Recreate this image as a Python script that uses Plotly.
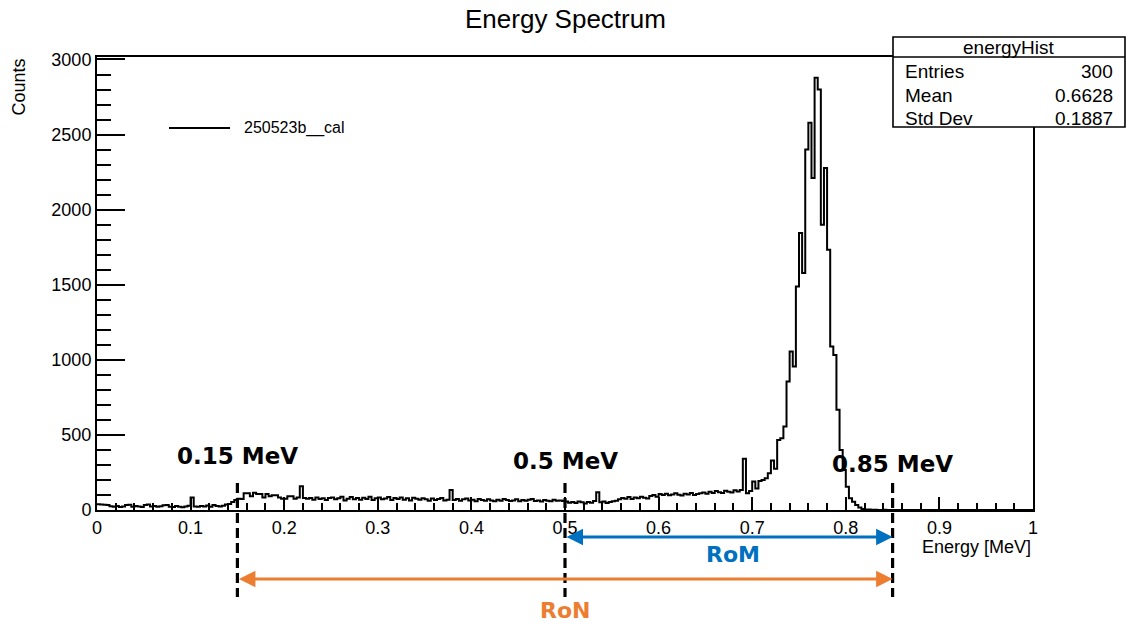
import numpy as np
import plotly.graph_objects as go

# ---- histogram contents: 300 bins over 0..1 MeV ----
counts = [
    # 0.00 - 0.15
    38, 37, 35, 34, 25, 22, 27, 20, 24, 33,
    35, 22, 27, 24, 20, 33, 36, 24, 26, 22,
    25, 31, 33, 22, 20, 27, 22, 19, 24, 28,
    84, 24, 22, 27, 24, 30, 22, 33, 27, 24,
    29, 36, 40, 53, 67,
    # 0.15 - 0.25
    75, 73, 111, 111, 91, 115, 107, 107, 84, 107,
    91, 98, 98, 84, 75, 75, 91, 91, 75, 84,
    158, 80, 75, 80, 69, 84, 73, 78, 67, 80,
    # 0.25 - 0.50
    84, 71, 78, 89, 64, 75, 87, 71, 80, 69,
    82, 73, 89, 67, 78, 84, 71, 76, 87, 67,
    80, 73, 84, 69, 78, 64, 82, 75, 69, 78,
    71, 62, 76, 67, 73, 80, 64, 69, 133, 67,
    73, 62, 71, 76, 64, 69, 58, 73, 67, 62,
    71, 64, 58, 69, 62, 73, 67, 60, 64, 71,
    58, 67, 62, 69, 73, 60, 64, 56, 67, 62,
    58, 69, 62, 64, 60,
    # 0.50 - 0.69
    56, 49, 53, 47, 56, 51, 44, 53, 49, 60,
    118, 51, 56, 47, 53, 58, 62, 71, 80, 75,
    87, 73, 84, 78, 89, 82, 76, 93, 100, 89,
    107, 100, 109, 98, 104, 111, 102, 96, 109, 104,
    113, 100, 107, 111, 116, 109, 122, 113, 127, 118,
    113, 129, 122, 116, 131, 124, 133,
    # 0.69 - 0.83 (photopeak)
    342, 111, 127, 190, 144, 193, 200, 211, 245, 330,
    275, 466, 478, 556, 856, 1056, 956, 1489, 1844, 1578,
    2400, 2578, 2211, 2878, 2800, 1900, 2278, 1733, 1089, 1033,
    667, 400, 267, 155, 78, 55, 33, 16, 7, 4,
    3, 2, 1,
    # 0.83 - 1.00
    0, 0, 1, 0, 0, 0, 0, 0, 0, 0,
    0, 0, 0, 0, 0, 0, 0, 0, 0, 0,
    0, 0, 0, 0, 0, 0, 0, 0, 0, 0,
    0, 0, 0, 0, 0, 0, 0, 0, 0, 0,
    0, 0, 0, 0, 0, 0, 0, 0, 0, 0,
]
assert len(counts) == 300

x_min, x_max = 0.0, 1.0
y_max = 3016.6

x_ticks = [0, 0.1, 0.2, 0.3, 0.4, 0.5, 0.6, 0.7, 0.8, 0.9, 1]
x_tick_text = ["0", "0.1", "0.2", "0.3", "0.4", "0.5", "0.6", "0.7", "0.8", "0.9", "1"]
y_ticks = [0, 500, 1000, 1500, 2000, 2500, 3000]

# region boundaries (MeV)
cut_low = 0.15
cut_mid = 0.5
cut_high = 0.85
cut_labels = ["0.15 MeV", "0.5 MeV", "0.85 MeV"]

# statistics panel
stats_title = "energyHist"
stats_names = ["Entries", "Mean", "Std Dev"]
stats_values = ["300", "0.6628", "0.1887"]
legend_name = "250523b__cal"

BLUE = "#0070C0"
ORANGE = "#ED7D31"
ROOT_FONT = "Liberation Sans, Arial, sans-serif"
BOLD_FONT = "DejaVu Sans, Verdana, sans-serif"

W, H = 1126, 626
L, R, T, B = 97, 93, 57, 116
PLOT_BOTTOM = H - B
PLOT_H = H - T - B
PLOT_W = W - L - R


def py(p):
    """pixel row -> paper y"""
    return (PLOT_BOTTOM - p) / PLOT_H


def px(p):
    """pixel column -> paper x"""
    return (p - L) / PLOT_W


n_bins = len(counts)
edges = np.linspace(x_min, x_max, n_bins + 1)
step_y = list(counts) + [counts[-1]]

fig = go.Figure()
fig.add_trace(go.Scatter(
    x=edges, y=step_y, mode="lines", name=legend_name,
    line=dict(shape="hv", color="black", width=2),
    showlegend=False, hoverinfo="skip",
))

axis_common = dict(
    showline=True, linecolor="black", linewidth=2, mirror=True,
    ticks="inside", tickcolor="black", tickwidth=1.6,
    showgrid=False, zeroline=False,
    tickfont=dict(family=ROOT_FONT, size=18, color="black"),
)

fig.update_xaxes(
    range=[x_min, x_max], tickvals=x_ticks, ticktext=x_tick_text, ticklen=13,
    minor=dict(ticks="inside", ticklen=7, dtick=0.02, tick0=0,
               tickcolor="black", tickwidth=1.6),
    **axis_common,
)
fig.update_yaxes(
    range=[0, y_max], tickvals=y_ticks, ticklen=28,
    minor=dict(ticks="inside", ticklen=14, dtick=100, tick0=0,
               tickcolor="black", tickwidth=1.6),
    **axis_common,
)

shapes = []
annotations = []

# dashed cut lines
for xc in (cut_low, cut_mid, cut_high):
    shapes.append(dict(type="line", xref="x", yref="paper",
                       x0=xc, x1=xc, y0=py(483), y1=py(597),
                       line=dict(color="black", width=3.2, dash="10px,5px"),
                       layer="above"))

# cut labels
for xc, lab, yc in zip((cut_low, cut_mid, cut_high), cut_labels, (456, 461, 464)):
    annotations.append(dict(x=xc, y=py(yc), xref="x", yref="paper",
                            text="<b>%s</b>" % lab, showarrow=False,
                            xanchor="center", yanchor="middle",
                            font=dict(family=BOLD_FONT, size=23, color="black")))

# RoM / RoN double arrows
for x0, x1, yrow, col, lab, ytxt, xtxt in (
        (cut_mid, cut_high, 537, BLUE, "RoM", 554, (cut_mid + cut_high) / 2 + 0.005),
        (cut_low, cut_high, 579, ORANGE, "RoN", 610, cut_mid)):
    annotations.append(dict(x=x1, y=py(yrow), xref="x", yref="paper",
                            ax=x0, ay=0, axref="x", ayref="pixel",
                            text="", showarrow=True, arrowhead=2, arrowside="end+start",
                            arrowsize=1.1, arrowwidth=3, arrowcolor=col))
    annotations.append(dict(x=xtxt, y=py(ytxt), xref="x", yref="paper",
                            text="<b>%s</b>" % lab, showarrow=False,
                            xanchor="center", yanchor="middle",
                            font=dict(family=BOLD_FONT, size=22, color=col)))

# statistics box
box_x0, box_x1 = px(893), px(1125)
shapes.append(dict(type="rect", xref="paper", yref="paper",
                   x0=box_x0, x1=box_x1, y0=py(127), y1=py(37),
                   line=dict(color="black", width=1.6), fillcolor="white", layer="above"))
shapes.append(dict(type="line", xref="paper", yref="paper",
                   x0=box_x0, x1=box_x1, y0=py(57), y1=py(57),
                   line=dict(color="black", width=1.6), layer="above"))
annotations.append(dict(x=(box_x0 + box_x1) / 2, y=py(47), xref="paper", yref="paper",
                        text=stats_title, showarrow=False, xanchor="center", yanchor="middle",
                        font=dict(family=ROOT_FONT, size=19, color="black")))
for i, (nm, val) in enumerate(zip(stats_names, stats_values)):
    yc = py(72 + 23 * i)
    annotations.append(dict(x=px(903), y=yc, xref="paper", yref="paper", text=nm,
                            showarrow=False, xanchor="left", yanchor="middle",
                            font=dict(family=ROOT_FONT, size=19, color="black")))
    annotations.append(dict(x=px(1115), y=yc, xref="paper", yref="paper", text=val,
                            showarrow=False, xanchor="right", yanchor="middle",
                            font=dict(family=ROOT_FONT, size=19, color="black")))

# legend entry
shapes.append(dict(type="line", xref="paper", yref="paper",
                   x0=px(169), x1=px(230), y0=py(128), y1=py(128),
                   line=dict(color="black", width=2)))
annotations.append(dict(x=px(242), y=py(128), xref="paper", yref="paper",
                        text=legend_name, showarrow=False, xanchor="left", yanchor="middle",
                        font=dict(family=ROOT_FONT, size=16, color="black")))

# titles
annotations.append(dict(x=0.5, y=py(19), xref="paper", yref="paper",
                        text="Energy Spectrum", showarrow=False,
                        xanchor="center", yanchor="middle",
                        font=dict(family=ROOT_FONT, size=26, color="black")))
annotations.append(dict(x=1.0, y=py(547), xref="paper", yref="paper",
                        text="Energy [MeV]", showarrow=False,
                        xanchor="right", yanchor="middle",
                        font=dict(family=ROOT_FONT, size=18, color="black")))
annotations.append(dict(x=px(18), y=py(57), xref="paper", yref="paper",
                        text="Counts", showarrow=False, textangle=-90,
                        xanchor="center", yanchor="top",
                        font=dict(family=ROOT_FONT, size=18, color="black")))

fig.update_layout(
    width=W, height=H,
    margin=dict(l=L, r=R, t=T, b=B, pad=0),
    paper_bgcolor="white", plot_bgcolor="white",
    shapes=shapes, annotations=annotations,
    showlegend=False,
)

fig.write_html("out.html")
